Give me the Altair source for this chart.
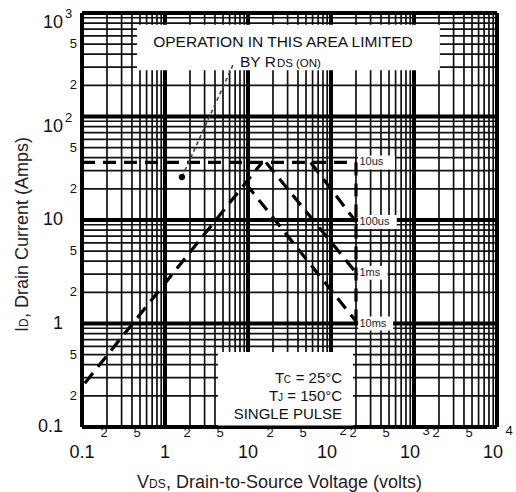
import altair as alt
import pandas as pd

# ---------------- data ----------------
decades_x = [0.1, 1, 10, 100, 1000, 10000]
decades_y = [0.1, 1, 10, 100, 1000]
minor_mult = [2, 3, 4, 5, 6, 7, 8, 9]
x_minor = [m * d for d in decades_x[:-1] for m in minor_mult]
y_minor = [m * d for d in decades_y[:-1] for m in minor_mult]
border_x = [0.1, 10000]
border_y = [0.1, 1000]

# SOA boundary lines (VDS in volts, ID in amps)
rds_v = [0.108, 14.8]
rds_i = [0.265, 36.0]
us10_v = [0.1, 200]
us10_i = [36.0, 36.0]
us100_v = [57, 200]
us100_i = [36.0, 9.6]
ms1_v = [16.5, 200]
ms1_i = [36.0, 3.1]
ms10_v = [9.4, 200]
ms10_i = [22.5, 1.05]
bvdss_v = [200, 200]
bvdss_i = [36.0, 1.0]

pulse_labels = ["10us", "100us", "1ms", "10ms"]
pulse_label_v = [220, 220, 220, 220]
pulse_label_i = [36.0, 9.6, 3.1, 1.0]
pulse_box_lo = [30.8, 8.2, 2.65, 0.855]
pulse_box_hi = [42.0, 11.2, 3.6, 1.17]
pulse_box_v1 = [212, 212, 212, 212]
pulse_box_v2 = [590, 620, 480, 560]

leader_v = [1.6, 6.6]
leader_i = [26, 315]

# annotation boxes
box_v1 = [0.46, 4.35]
box_v2 = [2050, 184]
box_i1 = [280, 0.1]
box_i2 = [770, 0.53]

# tick labels
x_dec_plain_v = [0.1, 1, 10]
x_dec_plain_t = ["0.1", "1", "10"]
x_dec_pow_v = [100, 1000, 10000]
x_dec_pow_t = ["10", "10", "10"]
x_dec_sup_t = ["2", "3", "4"]
x_min_v = [0.2, 0.5, 2, 5, 20, 50, 200, 500, 2000, 5000]
x_min_t = ["2", "5", "2", "5", "2", "5", "2", "5", "2", "5"]

y_dec_plain_i = [10, 1, 0.1]
y_dec_plain_t = ["10", "1", "0.1"]
y_dec_pow_i = [1000, 100]
y_dec_pow_t = ["10", "10"]
y_dec_sup_t = ["3", "2"]
y_min_i = [500, 200, 50, 20, 5, 2, 0.5, 0.2]
y_min_t = ["5", "2", "5", "2", "5", "2", "5", "2"]

FONT = "Liberation Sans, Arial, Helvetica, sans-serif"

xs = alt.Scale(type="log", domain=[0.1, 10000], nice=False)
ys = alt.Scale(type="log", domain=[0.1, 1000], nice=False)


def X(f):
    return alt.X(f, type="quantitative", scale=xs, axis=None)


def Y(f):
    return alt.Y(f, type="quantitative", scale=ys, axis=None)


# ---------------- grid ----------------
gx_minor = alt.Chart(pd.DataFrame({"v": x_minor})).mark_rule(
    color="#111", strokeWidth=1.7).encode(x=X("v"))
gy_minor = alt.Chart(pd.DataFrame({"i": y_minor})).mark_rule(
    color="#111", strokeWidth=1.7).encode(y=Y("i"))
gx_major = alt.Chart(pd.DataFrame({"v": decades_x})).mark_rule(
    color="black", strokeWidth=4).encode(x=X("v"))
gy_major = alt.Chart(pd.DataFrame({"i": decades_y})).mark_rule(
    color="black", strokeWidth=4).encode(y=Y("i"))

boxes = alt.Chart(pd.DataFrame({"v1": box_v1, "v2": box_v2, "i1": box_i1, "i2": box_i2})).mark_rect(
    color="white").encode(x=X("v1"), x2="v2", y=Y("i1"), y2="i2")
pboxes = alt.Chart(pd.DataFrame({"v1": pulse_box_v1, "v2": pulse_box_v2,
                                 "i1": pulse_box_lo, "i2": pulse_box_hi})).mark_rect(
    color="white").encode(x=X("v1"), x2="v2", y=Y("i1"), y2="i2")

bx = alt.Chart(pd.DataFrame({"v": border_x})).mark_rule(color="black", strokeWidth=3).encode(x=X("v"))
by = alt.Chart(pd.DataFrame({"i": border_y})).mark_rule(color="black", strokeWidth=3).encode(y=Y("i"))

# ---------------- SOA lines ----------------
rows = []
for name, vs, is_ in [("rds", rds_v, rds_i), ("10us", us10_v, us10_i), ("100us", us100_v, us100_i),
                      ("1ms", ms1_v, ms1_i), ("10ms", ms10_v, ms10_i), ("bv", bvdss_v, bvdss_i)]:
    for k, (v, i) in enumerate(zip(vs, is_)):
        rows.append({"series": name, "v": v, "i": i, "k": k})
soa = alt.Chart(pd.DataFrame(rows)).mark_line(
    color="black", strokeWidth=3.2, strokeDash=[13, 8]).encode(
    x=X("v"), y=Y("i"), detail="series:N", order="k:Q")

leader = alt.Chart(pd.DataFrame({"v": leader_v, "i": leader_i})).mark_line(
    color="#444", strokeWidth=1.6, strokeDash=[4, 3]).encode(x=X("v"), y=Y("i"))
dot = alt.Chart(pd.DataFrame({"v": leader_v[:1], "i": leader_i[:1]})).mark_point(
    filled=True, size=40, color="black", opacity=1).encode(x=X("v"), y=Y("i"))

plabels = alt.Chart(pd.DataFrame({"v": pulse_label_v, "i": pulse_label_i, "t": pulse_labels})).mark_text(
    font=FONT, fontSize=11, align="left", baseline="middle", color="#222").encode(
    x=X("v"), y=Y("i"), text="t:N")

# ---------------- annotations ----------------
ann1 = alt.Chart(pd.DataFrame({"v": [26.4], "i": [469], "t": ["OPERATION IN THIS AREA LIMITED"]})).mark_text(
    font=FONT, fontSize=15.5, align="center", baseline="alphabetic", color="#111").encode(
    x=X("v"), y=Y("i"), text="t:N")
ann2a = alt.Chart(pd.DataFrame({"v": [8.0], "i": [301], "t": ["BY R"]})).mark_text(
    font=FONT, fontSize=15.5, align="left", baseline="alphabetic", color="#111").encode(
    x=X("v"), y=Y("i"), text="t:N")
ann2b = alt.Chart(pd.DataFrame({"v": [22.3, 37.8], "i": [301, 301], "t": ["DS", "(ON)"]})).mark_text(
    font=FONT, fontSize=11.5, align="left", baseline="alphabetic", color="#111").encode(
    x=X("v"), y=Y("i"), text="t:N")

cond_v = 136
tc_main = alt.Chart(pd.DataFrame({"v": [cond_v, cond_v, cond_v], "i": [0.266, 0.178, 0.119],
                                  "t": [" = 25°C", " = 150°C", "SINGLE PULSE"]})).mark_text(
    font=FONT, fontSize=15, align="right", baseline="alphabetic", color="#111").encode(
    x=X("v"), y=Y("i"), text="t:N")
tc_T1 = alt.Chart(pd.DataFrame({"v": [cond_v], "i": [0.266], "t": ["T"]})).mark_text(
    font=FONT, fontSize=15, align="right", baseline="alphabetic", color="#111", dx=-58).encode(
    x=X("v"), y=Y("i"), text="t:N")
tc_C = alt.Chart(pd.DataFrame({"v": [cond_v], "i": [0.266], "t": ["C"]})).mark_text(
    font=FONT, fontSize=10, align="right", baseline="alphabetic", color="#111", dx=-51).encode(
    x=X("v"), y=Y("i"), text="t:N")
tc_T2 = alt.Chart(pd.DataFrame({"v": [cond_v], "i": [0.178], "t": ["T"]})).mark_text(
    font=FONT, fontSize=15, align="right", baseline="alphabetic", color="#111", dx=-64).encode(
    x=X("v"), y=Y("i"), text="t:N")
tc_J = alt.Chart(pd.DataFrame({"v": [cond_v], "i": [0.178], "t": ["J"]})).mark_text(
    font=FONT, fontSize=10, align="right", baseline="alphabetic", color="#111", dx=-59).encode(
    x=X("v"), y=Y("i"), text="t:N")

# ---------------- tick labels ----------------
xl_plain = alt.Chart(pd.DataFrame({"v": x_dec_plain_v, "t": x_dec_plain_t})).mark_text(
    font=FONT, fontSize=18, align="center", baseline="middle", color="#111").encode(
    x=X("v"), y=alt.value(440), text="t:N")
xl_pow = alt.Chart(pd.DataFrame({"v": x_dec_pow_v, "t": x_dec_pow_t})).mark_text(
    font=FONT, fontSize=18, align="center", baseline="middle", color="#111", dx=-4).encode(
    x=X("v"), y=alt.value(440), text="t:N")
xl_sup = alt.Chart(pd.DataFrame({"v": x_dec_pow_v, "t": x_dec_sup_t})).mark_text(
    font=FONT, fontSize=13, align="center", baseline="middle", color="#111", dx=12).encode(
    x=X("v"), y=alt.value(418), text="t:N")
xl_min = alt.Chart(pd.DataFrame({"v": x_min_v, "t": x_min_t})).mark_text(
    font=FONT, fontSize=13, align="center", baseline="middle", color="#111", dx=-3).encode(
    x=X("v"), y=alt.value(420), text="t:N")

yl_plain = alt.Chart(pd.DataFrame({"i": y_dec_plain_i, "t": y_dec_plain_t})).mark_text(
    font=FONT, fontSize=18, align="right", baseline="middle", color="#111").encode(
    x=alt.value(-19), y=Y("i"), text="t:N")
yl_pow = alt.Chart(pd.DataFrame({"i": y_dec_pow_i, "t": y_dec_pow_t})).mark_text(
    font=FONT, fontSize=18, align="right", baseline="middle", color="#111", dy=10).encode(
    x=alt.value(-19), y=Y("i"), text="t:N")
yl_sup = alt.Chart(pd.DataFrame({"i": y_dec_pow_i, "t": y_dec_sup_t})).mark_text(
    font=FONT, fontSize=13, align="left", baseline="middle", color="#111", dy=1).encode(
    x=alt.value(-17), y=Y("i"), text="t:N")
yl_min = alt.Chart(pd.DataFrame({"i": y_min_i, "t": y_min_t})).mark_text(
    font=FONT, fontSize=13, align="right", baseline="middle", color="#111").encode(
    x=alt.value(-5), y=Y("i"), text="t:N")

# ---------------- axis titles ----------------
def ptext(t, x, y, size, angle=None):
    kw = dict(font=FONT, fontSize=size, align="left", baseline="alphabetic", color="#222")
    if angle is not None:
        kw["angle"] = angle
    return alt.Chart(pd.DataFrame({"t": [t]})).mark_text(**kw).encode(
        x=alt.value(x), y=alt.value(y), text="t:N")


xt1 = ptext("V", 55, 475, 18)
xt2 = ptext("DS", 67, 475, 12)
xt3 = ptext(", Drain-to-Source Voltage (volts)", 84, 475, 18)

yt1 = ptext("I", -54, 319, 18, 270)
yt2 = ptext("D", -54, 314, 12, 270)
yt3 = ptext(", Drain Current (Amps)", -54, 305, 18, 270)

chart = alt.layer(
    gx_minor, gy_minor, gx_major, gy_major,
    boxes, pboxes,
    soa, leader, dot, plabels,
    ann1, ann2a, ann2b, tc_main, tc_T1, tc_C, tc_T2, tc_J,
    bx, by,
    xl_plain, xl_pow, xl_sup, xl_min,
    yl_plain, yl_pow, yl_sup, yl_min,
    xt1, xt2, xt3, yt1, yt2, yt3,
).properties(
    width=415, height=414,
    padding={"left": 82, "top": 13, "right": 19, "bottom": 65},
    autosize="none",
    background="white",
).configure_view(stroke=None)

chart.save("out.html", embed_options={"renderer": "svg", "actions": False})
